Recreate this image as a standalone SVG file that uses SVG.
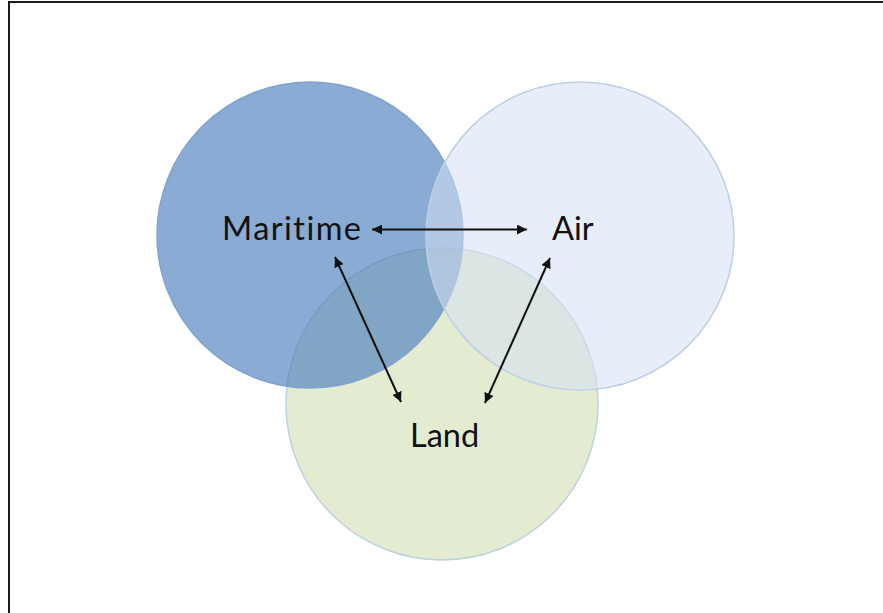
<svg xmlns="http://www.w3.org/2000/svg" width="883" height="613" viewBox="0 0 883 613">
  <style>
    .label { font-family: Lato, "Open Sans", "Liberation Sans", sans-serif; font-size: 32.5px; fill: #111; font-variant-ligatures: none; }
    .link { stroke: #111; stroke-width: 2; fill: none; marker-start: url(#head); marker-end: url(#head); }
    .frame { stroke: #1a1a1a; stroke-width: 2; fill: none; }
  </style>
  <defs>
    <marker id="head" viewBox="0 0 10 10" refX="10" refY="5" markerUnits="userSpaceOnUse" markerWidth="10" markerHeight="10" orient="auto-start-reverse">
      <path d="M0,0 L10,5 L0,10 Z" fill="#111"/>
    </marker>
  </defs>

  <rect width="883" height="613" fill="#ffffff"/>
  <path class="frame" d="M9,613 V2 H883"/>

  <!-- drawn bottom to top: land, maritime, air -->
  <g id="land">
    <circle cx="442" cy="404" r="156" fill="#9bbb59" fill-opacity="0.28" stroke="#bcd2df" stroke-width="1.5"/>
  </g>
  <g id="maritime">
    <circle cx="310" cy="235" r="153" fill="#4f81bd" fill-opacity="0.667" stroke="#7fa3cc" stroke-width="1.5"/>
  </g>
  <g id="air">
    <circle cx="580" cy="236" r="154" fill="#d5e0f4" fill-opacity="0.55" stroke="#bccfe8" stroke-width="1.5"/>
  </g>

  <g id="connectors">
    <line class="link" x1="372" y1="229.5" x2="527" y2="229.5"/>
    <line class="link" x1="335" y1="257" x2="401" y2="402"/>
    <line class="link" x1="550" y1="258" x2="485" y2="403"/>
  </g>

  <g id="labels">
    <text class="label" x="222" y="240" textLength="139" lengthAdjust="spacing">Maritime</text>
    <text class="label" x="552" y="240">Air</text>
    <text class="label" x="410" y="447">Land</text>
  </g>
</svg>
